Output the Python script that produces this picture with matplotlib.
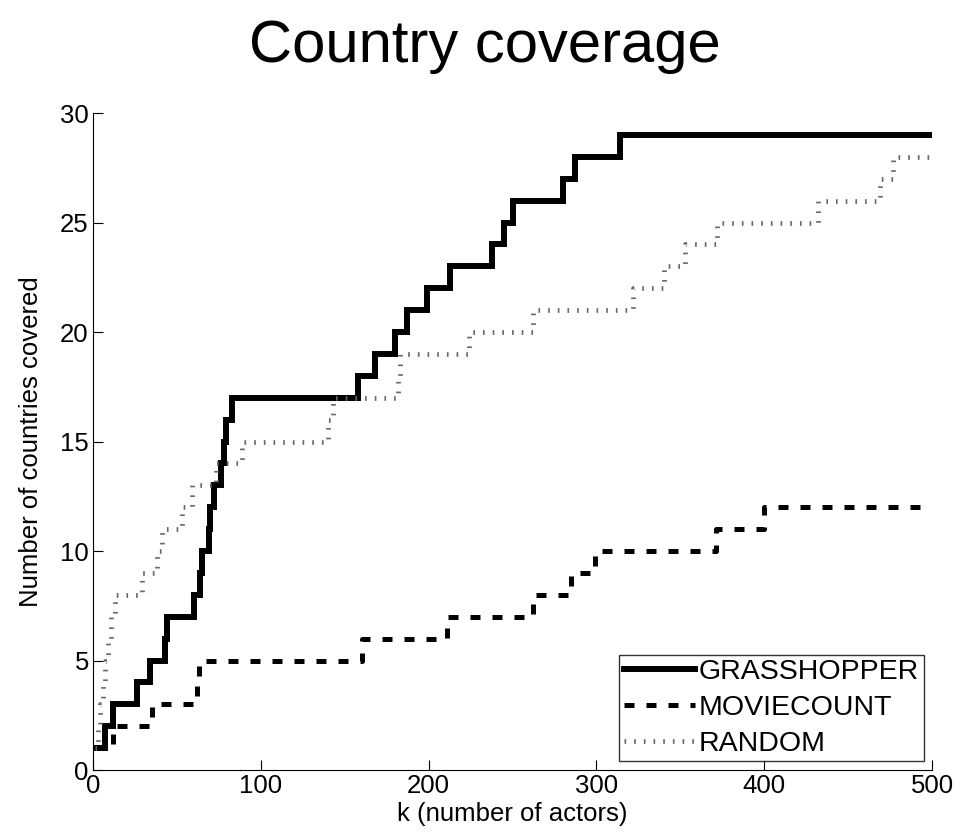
import matplotlib
matplotlib.use("Agg")
import matplotlib.pyplot as plt

plt.rcParams["font.family"] = ["Liberation Sans", "DejaVu Sans"]

# step points (k where coverage changes, new coverage value)
grass_k = [1, 7, 12, 26, 34, 43, 44, 60, 64, 65, 69, 70, 72, 76, 78, 79, 83,
           158, 168, 180, 187, 199, 213, 238, 245, 250, 280, 287, 314, 500]
grass_v = [1, 2, 3, 4, 5, 6, 7, 8, 9, 10, 11, 12, 13, 14, 15, 16, 17,
           18, 19, 20, 21, 22, 23, 24, 25, 26, 27, 28, 29, 29]

movie_k = [1, 12, 35, 62, 63, 160, 211, 262, 285, 299, 371, 400, 500]
movie_v = [1, 2, 3, 4, 5, 6, 7, 8, 9, 10, 11, 12, 12]

rand_k = [1, 3, 4, 6, 7, 9, 11, 13, 29, 38, 41, 53, 59, 73, 89, 140, 143,
          182, 183, 224, 262, 322, 340, 353, 372, 432, 469, 477, 500]
rand_v = [1, 2, 3, 4, 5, 6, 7, 8, 9, 10, 11, 12, 13, 14, 15, 16, 17,
          18, 19, 20, 21, 22, 23, 24, 25, 26, 27, 28, 28]

fig = plt.figure(figsize=(9.6, 8.39), dpi=100)
ax = fig.add_axes([0.0969, 0.0822, 0.8740, 0.7831])

ax.plot(grass_k, grass_v, drawstyle="steps-post", color="black",
        linewidth=4.3, solid_joinstyle="miter", label="GRASSHOPPER")
ax.plot(movie_k, movie_v, drawstyle="steps-post", color="black",
        linewidth=3.6, dashes=(2.0, 2.4), dash_capstyle="butt",
        label="MOVIECOUNT")
ax.plot(rand_k, rand_v, drawstyle="steps-post", color="#666666",
        linewidth=3.4, dashes=(0.35, 1.7), dash_capstyle="butt",
        label="RANDOM")

ax.set_xlim(0, 500)
ax.set_ylim(0, 30)
ax.set_xticks(range(0, 501, 100))
ax.set_yticks(range(0, 31, 5))
ax.spines["top"].set_visible(False)
ax.spines["right"].set_visible(False)
ax.tick_params(direction="in", length=7, labelsize=18.5, pad=3)
ax.set_xlabel("k (number of actors)", fontsize=18.5, labelpad=3)
ax.set_ylabel("Number of countries covered", fontsize=18.5, labelpad=12)

leg = ax.legend(loc="lower right", fontsize=20.5, frameon=True, fancybox=False,
                edgecolor="black", handlelength=2.5, handletextpad=0.15,
                borderpad=0.15, labelspacing=0.35, borderaxespad=0.3)
leg.get_frame().set_linewidth(1.0)

fig.text(0.505, 0.944, "Country coverage", fontsize=43, ha="center", va="center")

fig.savefig("out.png", dpi=100)
